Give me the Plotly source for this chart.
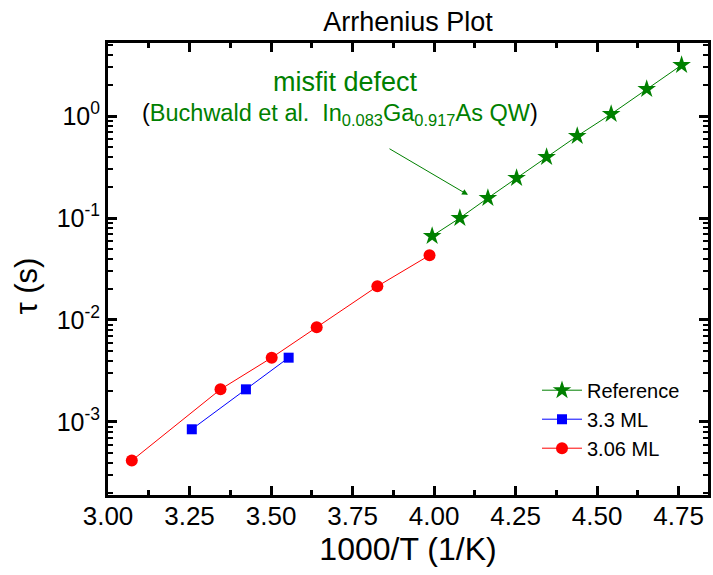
import plotly.graph_objects as go

# Data
ref_x = [3.994, 4.079, 4.165, 4.253, 4.345, 4.439, 4.543, 4.652, 4.759]
ref_y = [0.0666, 0.100, 0.157, 0.247, 0.396, 0.637, 1.046, 1.84, 3.16]

ml33_x = [3.257, 3.423, 3.554]
ml33_y = [8.48e-4, 2.09e-3, 4.27e-3]

ml306_x = [3.073, 3.345, 3.502, 3.640, 3.826, 3.986]
ml306_y = [4.18e-4, 2.09e-3, 4.27e-3, 8.48e-3, 0.0214, 0.0431]

y_tickvals = [1e-3, 1e-2, 1e-1, 1e0]
y_ticktext = ["10<sup>-3</sup>", "10<sup>-2</sup>", "10<sup>-1</sup>", "10<sup>0</sup>"]
x_tickvals = [3.00, 3.25, 3.50, 3.75, 4.00, 4.25, 4.50, 4.75]

FONT = "Arial, Liberation Sans, sans-serif"
GREEN = "#008000"

minor_y = [m * 10.0 ** e for e in range(-4, 1) for m in range(2, 10)]

W, H = 713, 575

fig = go.Figure()
fig.add_trace(go.Scatter(x=ref_x, y=ref_y, mode="lines+markers", name="Reference",
                         line=dict(color=GREEN, width=1),
                         marker=dict(symbol="star", size=14, color=GREEN)))
fig.add_trace(go.Scatter(x=ml33_x, y=ml33_y, mode="lines+markers", name="3.3 ML",
                         line=dict(color="#0000ff", width=1),
                         marker=dict(symbol="square", size=10, color="#0000ff")))
fig.add_trace(go.Scatter(x=ml306_x, y=ml306_y, mode="lines+markers", name="3.06 ML",
                         line=dict(color="#ff0000", width=1),
                         marker=dict(symbol="circle", size=12, color="#ff0000")))

fig.update_layout(
    width=W, height=H,
    margin=dict(l=108, r=2, t=43, b=80),
    paper_bgcolor="white", plot_bgcolor="white",
    font=dict(family=FONT, color="black"),
    title=dict(text="Arrhenius Plot", x=0.5, xanchor="center", xref="paper",
               y=1 - 21.5/H, yanchor="middle", font=dict(size=27, family=FONT)),
    showlegend=True,
    legend=dict(x=0.715, y=0.275, xanchor="left", yanchor="top", bgcolor="rgba(0,0,0,0)",
                font=dict(size=20, family=FONT), tracegroupgap=0, itemwidth=40),
)

fig.update_xaxes(
    range=[3.0, 4.84], tickvals=x_tickvals, tickformat=".2f",
    ticks="inside", ticklen=9, tickwidth=2.5, tickcolor="black",
    showline=True, linewidth=3, linecolor="black", mirror="allticks",
    showgrid=False, zeroline=False,
    tickfont=dict(size=26, family=FONT), ticklabelstandoff=-4,
    minor=dict(dtick=0.125, ticks="inside", ticklen=5, tickwidth=2.5, tickcolor="black", showgrid=False),
    title=dict(text="1000/T (1/K)", font=dict(size=32, family=FONT), standoff=7),
)
fig.update_yaxes(
    type="log", range=[-3.716, 0.716],
    tickvals=y_tickvals, ticktext=y_ticktext,
    ticks="inside", ticklen=9, tickwidth=2.5, tickcolor="black",
    showline=True, linewidth=3, linecolor="black", mirror="allticks",
    showgrid=False, zeroline=False,
    tickfont=dict(size=25, family=FONT),
    minor=dict(tickvals=minor_y, ticks="inside", ticklen=5, tickwidth=2, tickcolor="black", showgrid=False),
)

# y-axis title (sits a little below the plot's vertical centre in the reference)
fig.add_annotation(text="τ (s)", xref="paper", yref="paper", x=-82/603, y=0.462,
                   xanchor="center", yanchor="middle", textangle=-90, showarrow=False,
                   font=dict(size=31, family=FONT, color="black"))

fig.add_annotation(text="misfit defect", xref="paper", yref="paper",
                   x=0.395, y=0.914, xanchor="center", yanchor="middle", showarrow=False,
                   font=dict(size=27, color=GREEN, family=FONT))
fig.add_annotation(text='<span style="color:black">(</span>Buchwald et al.  In<sub>0.083</sub>Ga<sub>0.917</sub>As QW<span style="color:black">)</span>',
                   xref="paper", yref="paper", x=0.386, y=0.841, xanchor="center", yanchor="middle",
                   showarrow=False, font=dict(size=23.5, color=GREEN, family=FONT))
fig.add_annotation(text="", xref="paper", yref="paper", x=0.600, y=0.664,
                   ax=-80, ay=-47, showarrow=True, arrowhead=2, arrowsize=1.2,
                   arrowwidth=1, arrowcolor=GREEN)

# remove the browser's default 8px body margin so the figure fills the window exactly
fig.write_html("out.html", config={"displayModeBar": False},
               post_script="document.body.style.margin='0';")
